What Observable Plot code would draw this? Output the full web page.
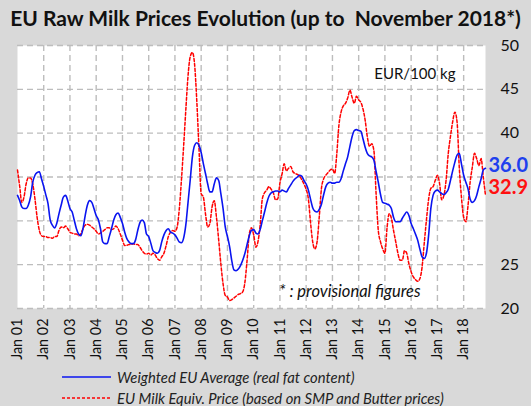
<!DOCTYPE html>
<html><head><meta charset="utf-8">
<script src="https://cdn.jsdelivr.net/npm/d3@7"></script>
<script src="https://cdn.jsdelivr.net/npm/@observablehq/plot@0.6"></script>
<style>
html,body{margin:0;padding:0;background:#d9d9d9;}
#wrap{position:relative;width:531px;height:406px;background:#d9d9d9;overflow:hidden;font-family:Lato,sans-serif;}
#title{position:absolute;left:0;top:5px;width:531px;text-align:center;font-weight:700;font-size:21px;white-space:pre;color:#111;}
#chart{position:absolute;left:0;top:0;}
#legend{position:absolute;left:62px;top:367px;font-style:italic;font-size:14.8px;color:#222;}
.item{display:flex;align-items:center;height:20.6px;}
.item svg{margin-right:6px;}
</style></head>
<body>
<div id="wrap">
  <div id="chart"></div>
  <div id="title">EU Raw Milk Prices Evolution (up to  November 2018*)</div>
  <div id="legend"></div>
</div>
<script>
// Monthly values, Jan 2001 .. Nov 2018 (EUR/100 kg)
const weightedAvg = [
  32.9,32.3,31.6,31.4,31.4,31.8,32.7,34.4,35.2,35.5,35.6,34.8, // 2001
  33.9,32.9,32.0,30.1,29.5,29.2,29.7,30.8,31.8,32.7,32.9,32.3, // 2002
  31.4,31.0,30.1,29.1,28.5,28.3,29.1,30.6,31.8,32.3,32.1,31.4, // 2003
  30.6,30.1,29.1,27.6,27.4,27.4,28.2,29.1,30.1,30.7,30.9,30.4, // 2004
  29.7,28.7,28.0,27.6,27.4,27.4,27.8,28.9,29.8,30.1,29.8,28.5, // 2005
  28.2,27.4,26.6,26.4,26.3,26.6,27.6,28.4,28.9,29.1,28.7,28.6, // 2006
  28.4,28.0,27.6,27.5,28.0,29.5,32.0,34.6,37.3,38.6,38.9,38.6, // 2007
  37.8,36.5,35.4,34.2,33.3,33.3,34.2,34.9,34.6,33.1,31.4,29.3, // 2008
  28.2,27.0,25.5,24.4,24.3,24.5,24.9,25.5,26.3,27.3,28.3,28.9, // 2009
  29.0,28.6,28.5,29.0,30.0,31.0,32.0,32.8,33.2,33.3,33.4,33.4, // 2010
  33.3,33.5,33.4,33.3,33.7,34.1,34.5,34.8,35.0,35.2,35.1,34.6, // 2011
  34.2,33.5,32.5,31.5,31.1,31.0,31.3,31.9,33.0,33.9,34.3,34.4, // 2012
  34.3,34.3,34.4,34.4,34.8,35.7,36.5,37.3,38.5,39.6,40.3,40.4, // 2013
  40.3,40.2,39.4,38.4,37.7,37.4,37.3,36.9,35.6,34.4,33.0,32.1, // 2014
  32.0,31.9,31.8,31.4,30.4,29.9,29.9,29.9,30.3,30.7,31.0,30.6, // 2015
  29.7,29.1,28.5,27.8,26.8,25.9,25.7,26.3,28.4,31.4,32.9,33.4, // 2016
  33.5,33.3,33.1,33.0,33.2,33.6,34.6,35.7,36.7,37.5,37.7,36.5, // 2017
  35.2,34.4,33.7,32.5,32.1,32.3,32.9,33.9,34.8,35.8,36.0       // 2018
];
const milkEquiv = [
  35.8,33.9,32.1,32.7,34.2,34.9,34.9,34.2,32.5,30.4,28.9,28.3, // 2001
  28.2,28.2,28.1,28.1,28.0,28.2,28.2,28.9,29.3,29.2,29.4,29.1, // 2002
  28.7,28.6,28.5,28.5,28.3,28.5,29.1,29.5,29.6,29.5,29.3,29.1, // 2003
  28.8,28.5,28.6,28.8,29.0,29.2,29.2,29.0,29.1,29.4,29.1,28.5, // 2004
  27.8,27.2,27.2,27.3,27.3,27.4,27.3,27.3,27.0,26.6,26.3,26.2, // 2005
  26.3,26.1,26.3,26.1,25.7,25.5,25.9,26.3,27.2,28.2,28.7,28.9, // 2006
  28.8,29.3,31.2,34.6,38.4,42.6,46.4,48.7,49.2,47.9,43.7,38.4, // 2007
  33.1,32.7,30.8,29.3,29.7,31.6,32.3,30.4,27.8,25.1,22.8,21.5, // 2008
  21.3,20.9,21.0,21.2,21.4,21.6,21.7,21.9,23.0,25.5,28.5,29.2, // 2009
  28.4,27.0,27.6,29.5,32.5,33.2,33.5,33.9,33.6,33.2,32.4,32.5, // 2010
  34.3,35.4,36.5,35.7,36.0,36.2,35.6,35.4,35.3,35.1,34.7,34.2, // 2011
  33.6,32.5,29.9,27.6,26.8,27.6,30.4,33.7,34.8,35.2,35.5,35.8, // 2012
  35.9,35.4,37.5,40.9,42.4,43.1,43.4,44.0,44.9,44.1,43.4,44.2, // 2013
  43.8,43.5,42.8,41.5,39.6,38.5,38.8,38.0,33.0,28.9,27.6,26.8, // 2014
  26.3,29.3,30.8,30.3,28.9,27.6,26.3,25.5,25.5,26.6,26.3,25.1, // 2015
  24.2,23.6,23.3,23.1,23.4,24.7,27.4,30.1,32.5,33.7,33.9,34.6, // 2016
  35.2,34.2,32.4,32.9,34.6,37.7,39.6,41.3,42.4,41.3,36.1,32.7, // 2017
  30.4,29.9,31.6,34.4,36.1,37.7,37.1,36.3,37.1,35.0,32.9       // 2018
];
const xTickLabels = ["Jan 01","Jan 02","Jan 03","Jan 04","Jan 05","Jan 06","Jan 07","Jan 08","Jan 09",
  "Jan 10","Jan 11","Jan 12","Jan 13","Jan 14","Jan 15","Jan 16","Jan 17","Jan 18"];
const yTickLabels = [20, 25, 40, 45, 50];
const yGrid = [20, 25, 30, 35, 40, 45, 50];
const seriesNames = ["Weighted EU Average (real fat content)", "EU Milk Equiv. Price (based on SMP and Butter prices)"];
const unitNote = "EUR/100 kg";
const provisionalNote = "* : provisional figures";

const start = new Date(Date.UTC(2001, 0, 1));
const months = weightedAvg.map((_, i) => d3.utcMonth.offset(start, i));
const rows = months.map((d, i) => ({date: d, weighted: weightedAvg[i], equiv: milkEquiv[i]}));
const janDates = xTickLabels.map((_, i) => new Date(Date.UTC(2001 + i, 0, 1)));
const last = rows[rows.length - 1];
const gridStyle = {stroke: "#bdbdbd", strokeDasharray: "6,4", strokeWidth: 1.4};

const chart = Plot.plot({
  width: 531, height: 362,
  marginTop: 45, marginBottom: 54, marginLeft: 17, marginRight: 46,
  style: {background: "transparent", fontFamily: "Lato, sans-serif", color: "#111", overflow: "visible"},
  x: {type: "utc", domain: [months[0], months[months.length - 1]]},
  y: {domain: [20, 50]},
  marks: [
    Plot.frame({fill: "white", stroke: "none"}),
    Plot.ruleY(yGrid, gridStyle),
    Plot.ruleX(janDates.slice(1), gridStyle),
    Plot.line(rows, {x: "date", y: "equiv", stroke: "#ff0000", strokeWidth: 1.5, strokeDasharray: "3,2", curve: "monotone-x"}),
    Plot.line(rows, {x: "date", y: "weighted", stroke: "#0a14f0", strokeWidth: 1.6, curve: "monotone-x"}),
    Plot.axisX({ticks: janDates, tickFormat: d => xTickLabels[d.getUTCFullYear() - 2001], tickRotate: -90,
      tickSize: 0, tickPadding: 10, fontSize: 14.4, label: null}),
    Plot.axisY({anchor: "right", ticks: yTickLabels, tickSize: 0, tickPadding: 15, fontSize: 16, label: null}),
    Plot.text([last], {x: "date", y: "weighted", text: d => d3.format(".1f")(d.weighted), dx: 3, dy: -3,
      textAnchor: "start", fill: "#2040ee", fontWeight: "bold", fontSize: 20}),
    Plot.text([last], {x: "date", y: "equiv", text: d => d3.format(".1f")(d.equiv), dx: 3, dy: -8,
      textAnchor: "start", fill: "#ff1010", fontWeight: "bold", fontSize: 20}),
    Plot.text([unitNote], {frameAnchor: "top-right", dx: -30, dy: 23, textAnchor: "end", fontSize: 15, fill: "#111"}),
    Plot.text([provisionalNote], {frameAnchor: "bottom-right", dx: -65, dy: -12, textAnchor: "end", fontSize: 16.5,
      fontStyle: "italic", fill: "#111"})
  ]
});
document.getElementById("chart").appendChild(chart);

const legend = document.getElementById("legend");
const styles = [{stroke: "#0a14f0", dash: null}, {stroke: "#ff0000", dash: "3,2"}];
seriesNames.forEach((name, i) => {
  const item = document.createElement("div");
  item.className = "item";
  item.innerHTML = `<svg width="49" height="4"><line x1="0" y1="2" x2="49" y2="2" stroke="${styles[i].stroke}" stroke-width="1.5" ${styles[i].dash ? `stroke-dasharray="${styles[i].dash}"` : ""}/></svg><span>${name}</span>`;
  legend.appendChild(item);
});
</script>
</body></html>
